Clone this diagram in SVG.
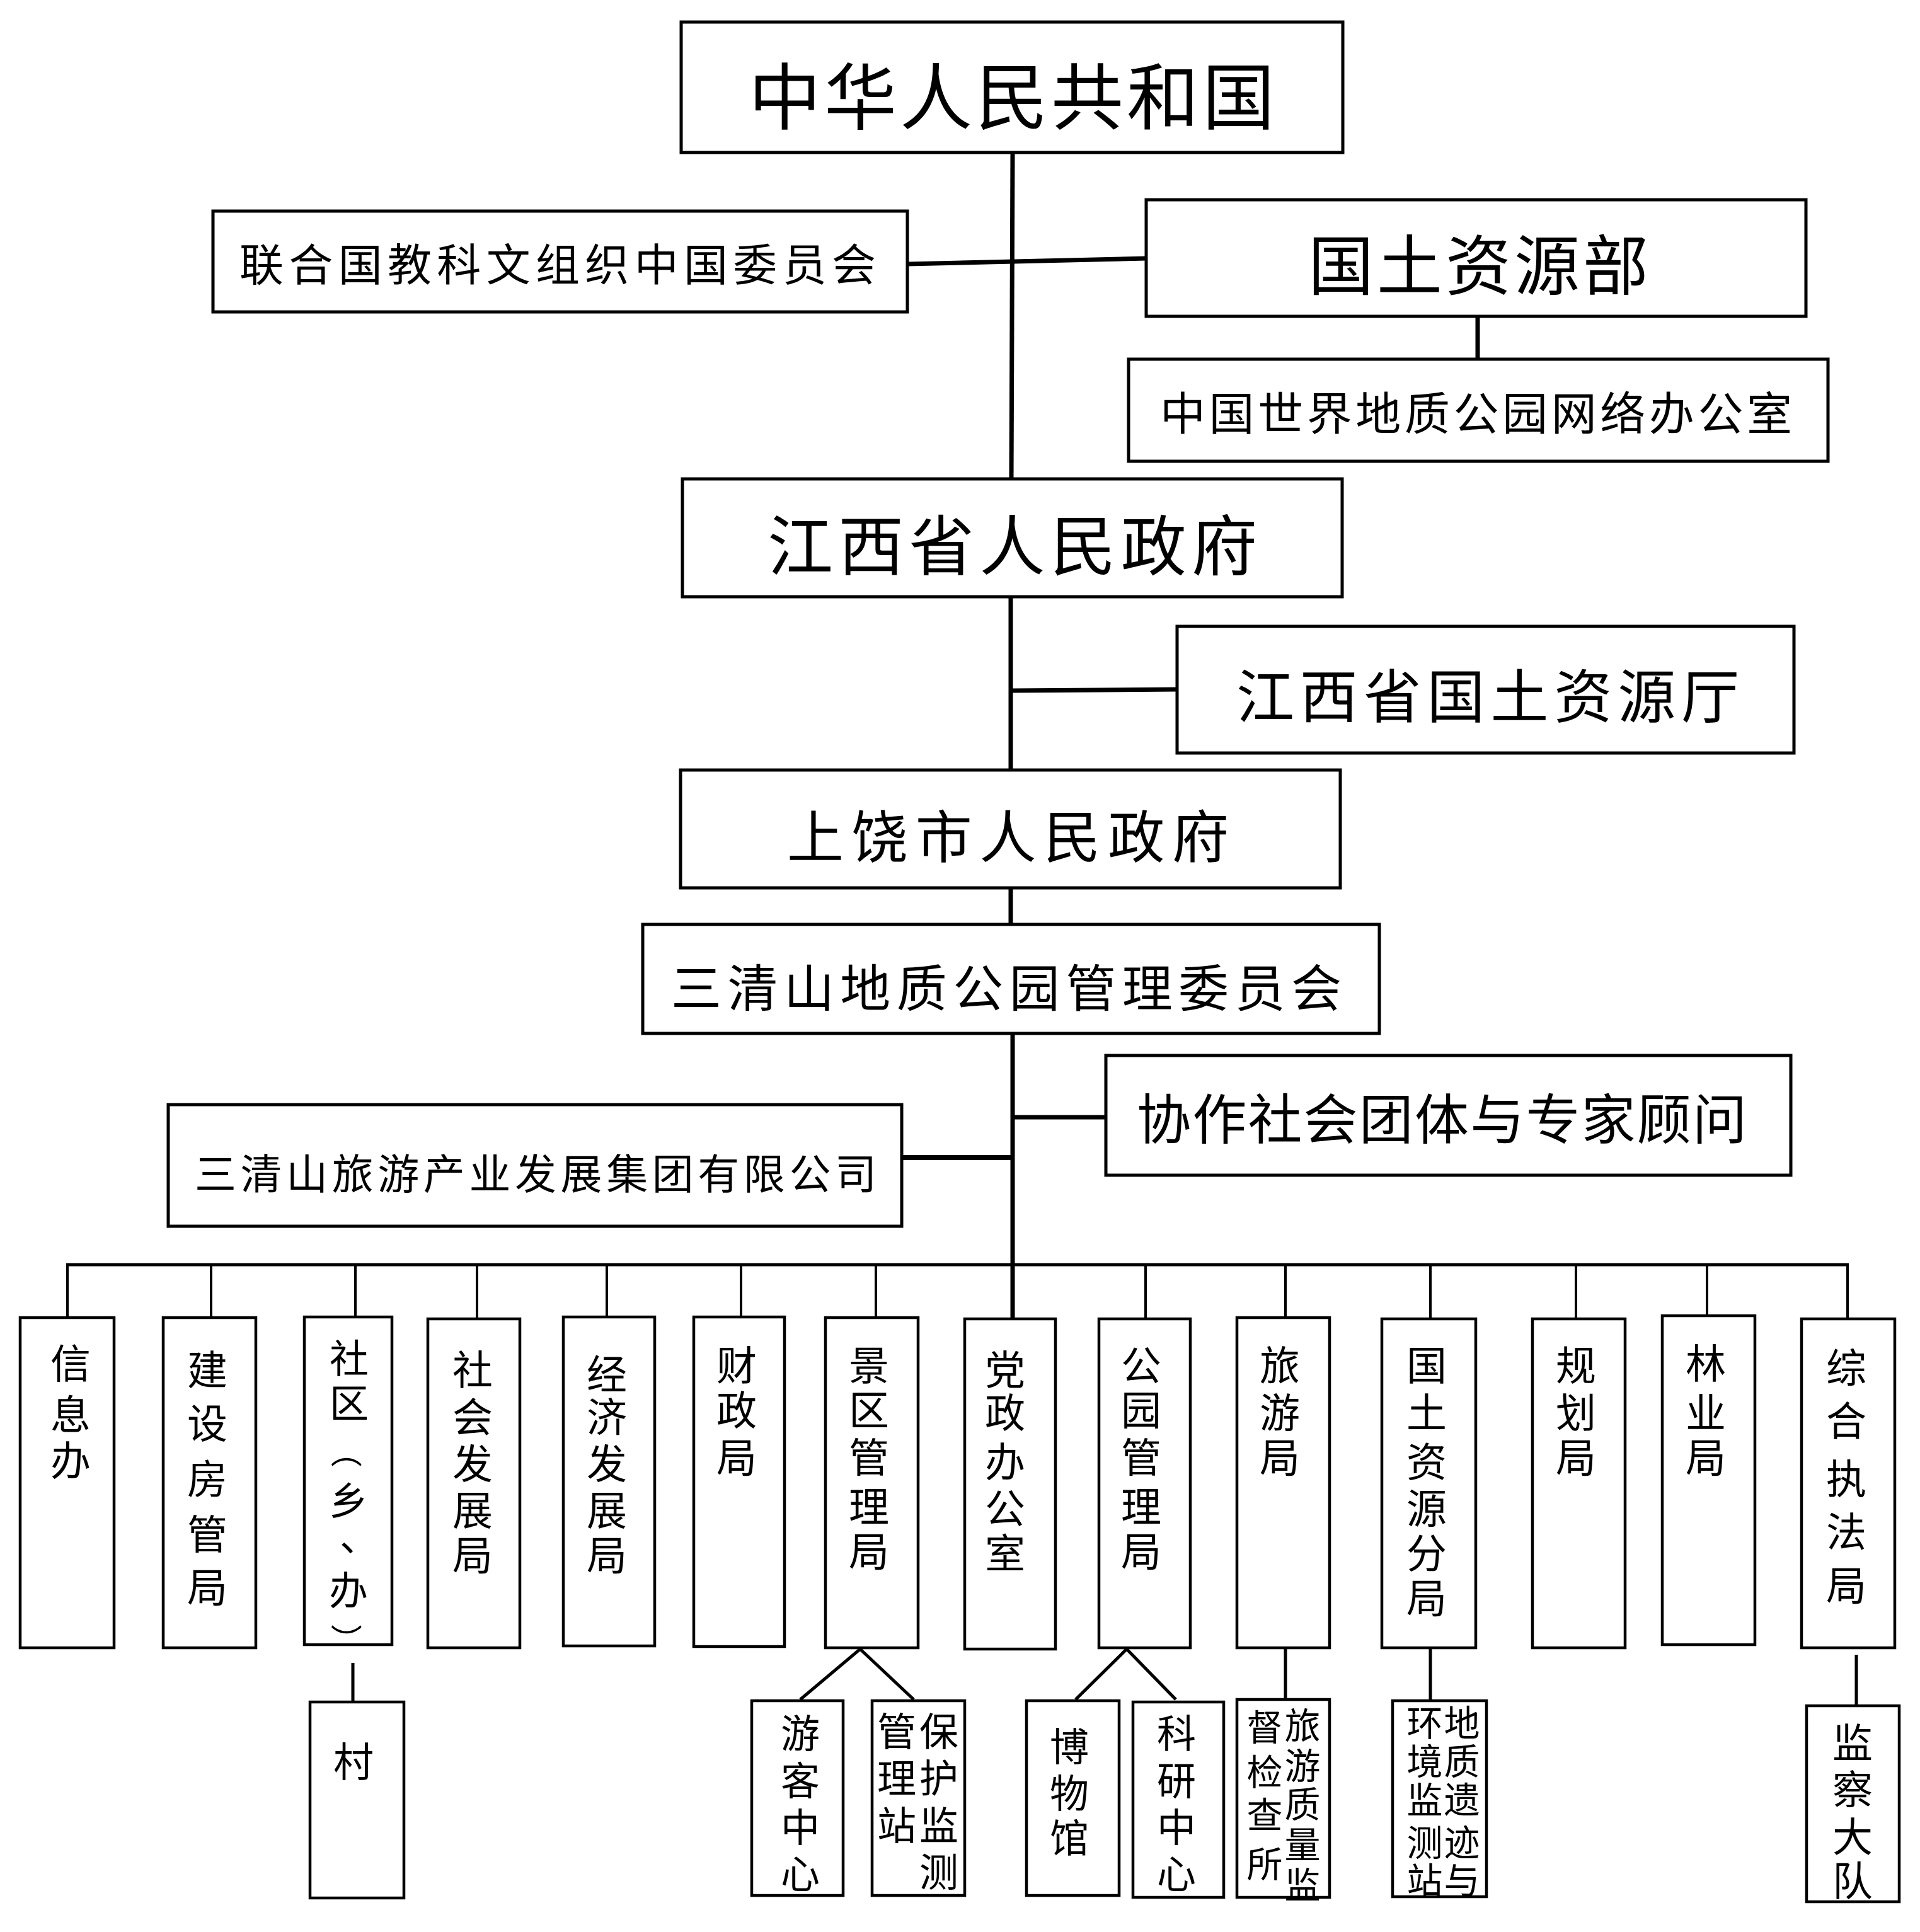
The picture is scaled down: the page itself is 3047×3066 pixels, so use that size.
<svg xmlns="http://www.w3.org/2000/svg" width="3047" height="3066" viewBox="0 0 3047 3066">
<style>
.box{fill:#fff;stroke:#000;stroke-width:5}
.sb{fill:#fff;stroke:#000;stroke-width:4.5}
.tr{stroke:#000;stroke-width:7;fill:none}
.dl{stroke:#000;stroke-width:4;fill:none}
text{font-family:"Noto Sans CJK SC","Noto Sans CJK TC",sans-serif;fill:#000}
.h{dominant-baseline:central}
.v{text-anchor:middle;dominant-baseline:central;font-size:64px}
.v2{text-anchor:middle;dominant-baseline:central;font-size:62px}
.v3{text-anchor:middle;dominant-baseline:central;font-size:57px}
.p{text-anchor:middle;dominant-baseline:central;font-size:50px}
</style>
<rect width="3047" height="3066" fill="#fff"/>
<g id="connectors">
<line class="tr" x1="1607" y1="242" x2="1605" y2="760"/>
<line class="tr" x1="1440" y1="419" x2="1819" y2="410"/>
<line class="tr" x1="2345" y1="502" x2="2345" y2="570"/>
<line class="tr" x1="1604" y1="947" x2="1604" y2="1222"/>
<line class="tr" x1="1604" y1="1096" x2="1868" y2="1094"/>
<line class="tr" x1="1604" y1="1409" x2="1604" y2="1467"/>
<line class="tr" x1="1607" y1="1640" x2="1607" y2="2093"/>
<line class="tr" x1="1607" y1="1773" x2="1755" y2="1773"/>
<line class="tr" style="stroke-width:8" x1="1431" y1="1837" x2="1607" y2="1837"/>
<line class="dl" style="stroke-width:5" x1="105" y1="2007" x2="2934" y2="2007"/>
<path class="dl" d="M107 2007V2091M335 2007V2091M564 2007V2090M757 2007V2093M963 2007V2090M1176 2007V2090M1390 2007V2091M1818 2007V2093M2040 2007V2091M2270 2007V2093M2501 2007V2093M2709 2007V2088M2932 2007V2093"/>
<path class="dl" style="stroke-width:5" d="M560 2639V2701M1270 2697L1365 2617L1450 2697M1707 2697L1788 2617L1866 2697M2040 2615V2697M2270 2615V2699M2946 2626V2707"/>
</g>
<g id="n-prc"><rect class="box" x="1081" y="35" width="1050" height="207"/><text class="h" x="1188" y="146" font-size="115" textLength="835" lengthAdjust="spacing">中华人民共和国</text></g>
<g id="n-unesco"><rect class="box" x="338" y="335" width="1102" height="160"/><text class="h" x="380" y="415" font-size="70" textLength="1010" lengthAdjust="spacing">联合国教科文组织中国委员会</text></g>
<g id="n-mlr"><rect class="box" x="1819" y="317" width="1047" height="185"/><text class="h" x="2076" y="414" font-size="104" textLength="540" lengthAdjust="spacing">国土资源部</text></g>
<g id="n-ggn"><rect class="box" x="1791" y="570" width="1110" height="162"/><text class="h" x="1841" y="650" font-size="72" textLength="1003" lengthAdjust="spacing">中国世界地质公园网络办公室</text></g>
<g id="n-jx"><rect class="box" x="1083" y="760" width="1047" height="187"/><text class="h" x="1218" y="859" font-size="104" textLength="777" lengthAdjust="spacing">江西省人民政府</text></g>
<g id="n-jxlr"><rect class="box" x="1868" y="994" width="979" height="201"/><text class="h" x="1962" y="1098" font-size="92" textLength="798" lengthAdjust="spacing">江西省国土资源厅</text></g>
<g id="n-sr"><rect class="box" x="1080" y="1222" width="1047" height="187"/><text class="h" x="1249" y="1322" font-size="90" textLength="701" lengthAdjust="spacing">上饶市人民政府</text></g>
<g id="n-sqs"><rect class="box" x="1020" y="1467" width="1169" height="173"/><text class="h" x="1065" y="1562" font-size="80" textLength="1064" lengthAdjust="spacing">三清山地质公园管理委员会</text></g>
<g id="n-coop"><rect class="box" x="1755" y="1675" width="1087" height="190"/><text class="h" x="1804" y="1770" font-size="86" textLength="968" lengthAdjust="spacing">协作社会团体与专家顾问</text></g>
<g id="n-group"><rect class="box" x="267" y="1753" width="1164" height="193"/><text class="h" x="309" y="1858" font-size="66" textLength="1082" lengthAdjust="spacing">三清山旅游产业发展集团有限公司</text></g>

<g id="n-xxb"><rect class="sb" x="32" y="2091" width="149" height="524"/><text class="v" x="112 112 112" y="2159 2240 2313">信息办</text></g>
<g id="n-jsfgj"><rect class="sb" x="259" y="2091" width="147" height="524"/><text class="v" x="329 329 329 329 329" y="2169 2254 2342 2430 2514">建设房管局</text></g>
<g id="n-sq"><rect class="sb" x="483" y="2090" width="139" height="520"/><text class="v2" x="554 554" y="2152 2223">社区</text><text class="p" x="553" y="2304" transform="rotate(90 553 2304)">（</text><text class="v2" x="553 570 553" y="2378 2435 2520">乡、办</text><text class="p" x="553" y="2602" transform="rotate(90 553 2602)">）</text></g>
<g id="n-shfzj"><rect class="sb" x="679" y="2093" width="146" height="522"/><text class="v" x="750 750 750 750 750" y="2169 2244 2318 2392 2463">社会发展局</text></g>
<g id="n-jjfzj"><rect class="sb" x="894" y="2090" width="145" height="522"/><text class="v" x="963 963 963 963 963" y="2176 2244 2318 2392 2463">经济发展局</text></g>
<g id="n-czj"><rect class="sb" x="1101" y="2090" width="144" height="523"/><text class="v" x="1169 1169 1169" y="2162 2233 2308">财政局</text></g>
<g id="n-jqglj"><rect class="sb" x="1310" y="2091" width="147" height="524"/><text class="v" x="1379 1379 1379 1379 1379" y="2162 2233 2308 2386 2457">景区管理局</text></g>
<g id="n-dzbgs"><rect class="sb" x="1531" y="2093" width="144" height="524"/><text class="v" x="1595 1595 1595 1595 1595" y="2169 2237 2315 2389 2460">党政办公室</text></g>
<g id="n-gyglj"><rect class="sb" x="1744" y="2093" width="145" height="522"/><text class="v" x="1811 1811 1811 1811 1811" y="2162 2233 2308 2386 2457">公园管理局</text></g>
<g id="n-lyj"><rect class="sb" x="1963" y="2091" width="147" height="524"/><text class="v" x="2031 2031 2031" y="2162 2237 2308">旅游局</text></g>
<g id="n-gtzyfj"><rect class="sb" x="2193" y="2093" width="149" height="522"/><text class="v" x="2264 2264 2264 2264 2264 2264" y="2162 2237 2315 2389 2460 2531">国土资源分局</text></g>
<g id="n-ghj"><rect class="sb" x="2432" y="2093" width="147" height="522"/><text class="v" x="2501 2501 2501" y="2162 2237 2308">规划局</text></g>
<g id="n-lyej"><rect class="sb" x="2638" y="2088" width="147" height="522"/><text class="v" x="2707 2707 2707" y="2159 2237 2308">林业局</text></g>
<g id="n-zhzfj"><rect class="sb" x="2859" y="2093" width="148" height="522"/><text class="v" x="2930 2930 2930 2930 2930" y="2166 2250 2342 2426 2511">综合执法局</text></g>

<g id="n-cun"><rect class="sb" x="492" y="2701" width="149" height="311"/><text class="v" x="561" y="2791">村</text></g>
<g id="n-ykzx"><rect class="sb" x="1193" y="2699" width="145" height="309"/><text class="v2" x="1270 1270 1270 1270" y="2747 2822 2896 2970">游客中心</text></g>
<g id="n-bhjc"><rect class="sb" x="1384" y="2699" width="147" height="309"/><text class="v2" x="1490 1490 1490 1490" y="2744 2818 2893 2967">保护监测</text><text class="v2" x="1423 1423 1423" y="2744 2818 2893">管理站</text></g>
<g id="n-bwg"><rect class="sb" x="1629" y="2699" width="147" height="309"/><text class="v2" x="1697 1697 1697" y="2768 2842 2913">博物馆</text></g>
<g id="n-kyzx"><rect class="sb" x="1798" y="2701" width="144" height="310"/><text class="v2" x="1867 1867 1867 1867" y="2747 2822 2896 2970">科研中心</text></g>
<g id="n-lyzl"><rect class="sb" x="1963" y="2697" width="147" height="314"/><text class="v3" x="2067 2067 2067 2067 2067" y="2734 2798 2859 2923 2987">旅游质量监</text><text class="v3" x="2007 2007 2007 2007" y="2737 2808 2876 2954">督检查所</text></g>
<g id="n-dzyj"><rect class="sb" x="2210" y="2699" width="149" height="311"/><text class="v3" x="2320 2320 2320 2320 2320" y="2730 2791 2852 2920 2980">地质遗迹与</text><text class="v3" x="2261 2261 2261 2261 2261" y="2730 2791 2852 2920 2980">环境监测站</text></g>
<g id="n-jcdd"><rect class="sb" x="2867" y="2707" width="147" height="311"/><text class="v" x="2940 2940 2940 2940" y="2761 2835 2910 2980">监察大队</text></g>
</svg>
